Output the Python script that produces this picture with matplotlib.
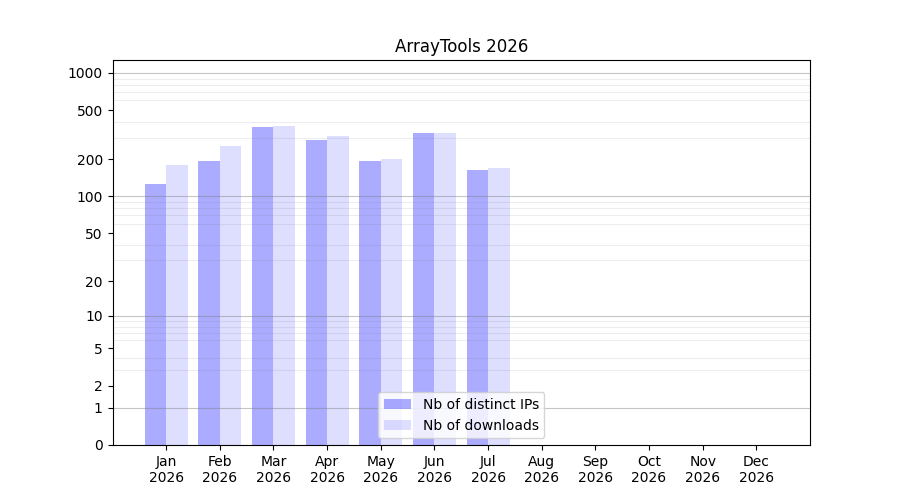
import numpy as np
import matplotlib
matplotlib.use("Agg")
import matplotlib.pyplot as plt

months = ["Jan", "Feb", "Mar", "Apr", "May", "Jun", "Jul", "Aug", "Sep", "Oct", "Nov", "Dec"]
year = "2026"
ips = [127, 194, 366, 288, 194, 327, 164]
downloads = [180, 257, 373, 309, 202, 327, 170]
ytick_vals = [0, 1, 2, 5, 10, 20, 50, 100, 200, 500, 1000]

def fwd(x):
    return np.log10(1 + np.clip(x, 0, None))

def inv(y):
    return 10 ** y - 1

fig = plt.figure(figsize=(9, 5), dpi=100)
ax = fig.add_subplot(111)
ax.set_yscale("function", functions=(fwd, inv))

x = np.arange(len(ips))
w = 0.4
ax.bar(x, ips, width=-w, align="edge", color="blue", alpha=0.33, label="Nb of distinct IPs")
ax.bar(x, downloads, width=w, align="edge", color="blue", alpha=0.13, label="Nb of downloads")

ax.set_xticks(np.arange(len(months)))
ax.set_xticklabels([f"{m}\n{year}" for m in months])
ax.set_xlim(-1, 12)

ax.set_ylim(0, 1270)
ax.set_yticks(ytick_vals)
ax.set_yticklabels([str(v) for v in ytick_vals])
minor = [m * d for d in [1, 10, 100, 1000] for m in range(2, 10) if m * d < 1270]
ax.set_yticks(minor, minor=True)
ax.tick_params(axis="y", which="minor", length=0)
ax.grid(True, axis="y", which="minor", color="gray", alpha=0.14, linewidth=0.8)
for d in [1, 10, 100, 1000]:
    ax.axhline(d, color="gray", alpha=0.45, linewidth=0.8)

ax.set_title("ArrayTools 2026")
ax.legend(loc="lower center")
fig.savefig("out.png")
